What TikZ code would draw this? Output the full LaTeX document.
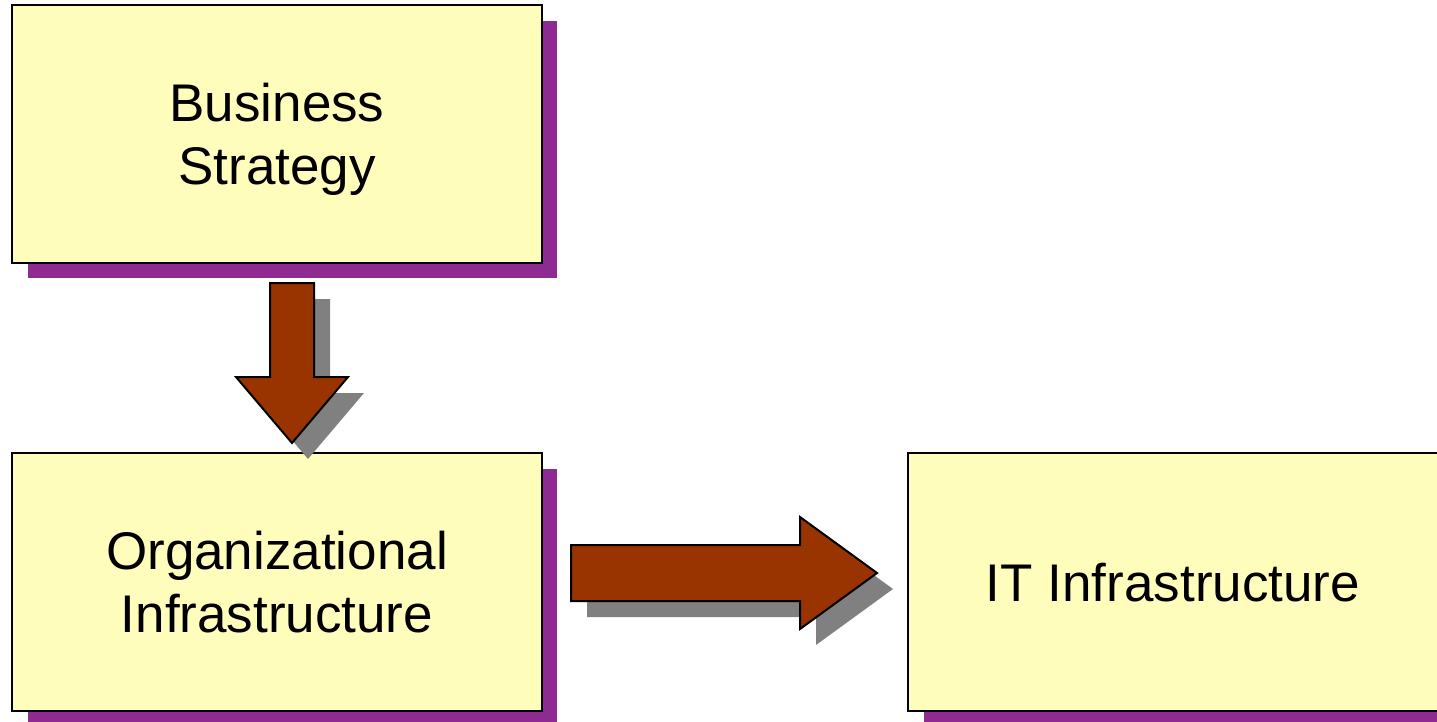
\documentclass[tikz,border=0pt]{standalone}
\usepackage{fontspec}
\setmainfont{Liberation Sans}
\definecolor{boxfill}{HTML}{FFFDBB}
\definecolor{boxshade}{HTML}{8E2A92}
\definecolor{arrowfill}{HTML}{993300}
\definecolor{arrowshade}{HTML}{808080}
\tikzset{
  block/.style={draw=black, line width=2.6pt, fill=boxfill, rectangle,
    minimum width=530pt, minimum height=258pt, inner sep=0pt, align=center,
    text depth=0pt, font=\fontsize{53}{63}\selectfont},
  blockshade/.style={fill=boxshade, draw=none},
  blockarrow/.style={fill=arrowfill, draw=black, line width=2pt, line join=miter},
  arrowshadow/.style={fill=arrowshade, draw=none}
}
\begin{document}
\begin{tikzpicture}[x=1pt, y=-1pt]
  \useasboundingbox (0,0) rectangle (1437,722);
  % drop shadows of the three boxes
  \fill[blockshade] (28,21) rectangle (557,278);
  \fill[blockshade] (28,469) rectangle (557,727);
  \fill[blockshade] (924,469) rectangle (1453,727);
  % boxes
  \node[block] (strategy) at (277,134) {Business\\Strategy};
  \node[block] (org) at (277,582) {Organizational\\Infrastructure};
  \node[block] (it) at (1173,582) {IT Infrastructure};
  % downward block arrow from strategy to org
  \begin{scope}[shift={(16,16)}]
    \fill[arrowshadow] (270,283) -- (314,283) -- (314,377) -- (348,377) -- (292,443) -- (236,377) -- (270,377) -- cycle;
  \end{scope}
  \draw[blockarrow] (270,283) -- (314,283) -- (314,377) -- (348,377) -- (292,443) -- (236,377) -- (270,377) -- cycle;
  % rightward block arrow from org to it
  \begin{scope}[shift={(16,16)}]
    \fill[arrowshadow] (571,545) -- (800,545) -- (800,517) -- (877,573) -- (800,629) -- (800,601) -- (571,601) -- cycle;
  \end{scope}
  \draw[blockarrow] (571,545) -- (800,545) -- (800,517) -- (877,573) -- (800,629) -- (800,601) -- (571,601) -- cycle;
\end{tikzpicture}
\end{document}
